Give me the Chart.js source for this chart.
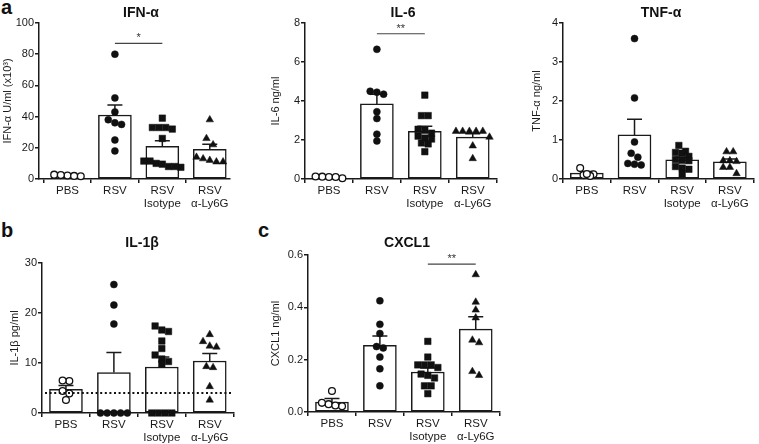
<!DOCTYPE html>
<html>
<head>
<meta charset="utf-8">
<script src="https://cdn.jsdelivr.net/npm/chart.js@4.4.1/dist/chart.umd.min.js"></script>
<style>
body { margin: 0; background: #fff; }
#page { position: relative; width: 759px; height: 444px; overflow: hidden; font-family: "Liberation Sans", Arial, sans-serif; }
canvas { position: absolute; }
.tag { position: absolute; font-weight: bold; font-size: 20px; line-height: 20px; color: #111; }
</style>
</head>
<body>
<div id="page">
  <div class="tag" style="left:1px;top:-3px">a</div>
  <div class="tag" style="left:1px;top:220px">b</div>
  <div class="tag" style="left:258px;top:220px">c</div>
</div>
<script>
const groups = [['PBS'], ['RSV'], ['RSV', 'Isotype'], ['RSV', 'α-Ly6G']];

// IFN-α U/ml (x10^3)
const ifnPBS = [2.2, 2.8, 1.8, 2.0, 2.5];
const ifnRSV = [80, 52, 43, 38, 36, 35, 25, 18];
const ifnIso = [39, 33, 33, 32, 33, 26, 11.5, 10, 8, 7.5, 8, 9.5, 11.5];
const ifnLy6G = [38, 26, 22, 14, 12, 11, 11, 13];
const ifnMean = [2.2, 41, 21, 19];
const ifnSem = [0.3, 6.5, 3.5, 3.2];
const ifnTicks = [0, 20, 40, 60, 80, 100];

// IL-6 ng/ml
const il6PBS = [0.12, 0.1, 0.04, 0.1, 0.13];
const il6RSV = [6.65, 4.5, 4.35, 4.45, 3.45, 3.1, 2.3, 1.95];
const il6Iso = [4.3, 3.25, 3.25, 2.55, 2.5, 2.35, 2.1, 2.05, 2.2, 1.8, 1.85, 1.4];
const il6Ly6G = [2.45, 2.45, 2.45, 2.15, 2.45, 2.45, 1.7, 1.05];
const il6Mean = [0.1, 3.85, 2.45, 2.15];
const il6Sem = [0.02, 0.5, 0.25, 0.17];
const il6Ticks = [0, 2, 4, 6, 8];

// TNF-α ng/ml
const tnfPBS = [0.12, 0.1, 0.28, 0.08, 0.13];
const tnfRSV = [3.6, 2.08, 0.95, 0.66, 0.56, 0.4, 0.36, 0.38];
const tnfIso = [0.86, 0.71, 0.68, 0.66, 0.58, 0.5, 0.48, 0.47, 0.32, 0.28, 0.25, 0.13];
const tnfLy6G = [0.7, 0.7, 0.47, 0.45, 0.47, 0.3, 0.3, 0.14];
const tnfMean = [0.15, 1.13, 0.49, 0.44];
const tnfSem = [0.04, 0.4, 0.065, 0.07];
const tnfTicks = [0, 1, 2, 3, 4];

// IL-1β pg/ml
const il1PBS = [6.4, 6.5, 4.4, 3.9, 2.6];
const il1RSV = [25.7, 21.6, 17.8, 0, 0, 0, 0, 0];
const il1Iso = [17.4, 16.6, 16.3, 14.4, 12.9, 11.6, 10.8, 10.3, 9.8, 0, 0, 0, 0];
const il1Ly6G = [15.7, 14.3, 13.4, 13.2, 9.3, 9.1, 5.3, 2.6];
const il1Mean = [4.75, 8.1, 9.2, 10.4];
const il1Sem = [0.75, 4.0, 2.0, 1.5];
const il1Ticks = [0, 10, 20, 30];
const il1Limit = 4;

// CXCL1 ng/ml
const cxPBS = [0.08, 0.03, 0.022, 0.025, 0.035];
const cxRSV = [0.425, 0.335, 0.3, 0.25, 0.245, 0.21, 0.165, 0.1];
const cxIso = [0.27, 0.21, 0.18, 0.18, 0.18, 0.17, 0.145, 0.14, 0.13, 0.1, 0.1, 0.07];
const cxLy6G = [0.525, 0.42, 0.39, 0.36, 0.275, 0.265, 0.155, 0.14];
const cxMean = [0.038, 0.255, 0.153, 0.317];
const cxSem = [0.014, 0.035, 0.015, 0.047];
const cxTicks = [0, 0.2, 0.4, 0.6];

// significance bars: [from group, to group, height, label]
const ifnSig = [1, 2, 87, '*'];
const il6Sig = [1, 2, 7.45, '**'];
const cxSig = [2, 3, 0.565, '**'];

const FONT = '"Liberation Sans", Arial, Helvetica, sans-serif';
const INK = '#1a1a1a';
const styles = [
  { pointStyle: 'circle', pointRadius: 3.4, backgroundColor: '#fff', borderWidth: 1.3 },
  { pointStyle: 'circle', pointRadius: 3.5, backgroundColor: '#111', borderWidth: 0.5 },
  { pointStyle: 'rect', pointRadius: 4.6, backgroundColor: '#111', borderWidth: 0.5 },
  { pointStyle: 'triangle', pointRadius: 4.3, backgroundColor: '#111', borderWidth: 0.5 }
];

// spread points with close values side by side, like a column scatter
function spread(values, tol) {
  const order = values.map((v, i) => i).sort((a, b) => values[b] - values[a]);
  const off = values.map(() => 0);
  let k = 0;
  while (k < order.length) {
    let j = k;
    while (j + 1 < order.length && values[order[k]] - values[order[j + 1]] < tol) j++;
    const n = j - k + 1;
    const step = n > 1 ? Math.min(0.14, 0.78 / (n - 1)) : 0;
    for (let m = 0; m < n; m++) off[order[k + m]] = (m - (n - 1) / 2) * step;
    k = j + 1;
  }
  return off;
}

function makePanel(p) {
  const b = p.box;
  const cLeft = Math.round(b.yTitleX - 6.6);
  const cTop = b.headY - 12;
  const w = Math.min(759, b.right + 2) - cLeft;
  const h = b.bottom + 36 - cTop;
  const cv = document.createElement('canvas');
  cv.width = w; cv.height = h;
  cv.style.left = cLeft + 'px'; cv.style.top = cTop + 'px';
  cv.style.width = w + 'px'; cv.style.height = h + 'px';
  document.getElementById('page').appendChild(cv);

  const tol = p.yMax * 6.5 / (b.bottom - b.top);
  const datasets = [{
    type: 'bar',
    data: p.means.map((m, i) => ({ x: i, y: m })),
    backgroundColor: '#fff',
    borderColor: INK,
    borderWidth: 1.5,
    borderSkipped: false,
    barThickness: 33,
    order: 2
  }];
  p.points.forEach((vals, i) => {
    const off = spread(vals, tol);
    datasets.push(Object.assign({
      type: 'scatter',
      data: vals.map((v, k) => ({ x: i + off[k], y: v })),
      borderColor: '#111',
      clip: false,
      order: 0
    }, styles[i]));
  });

  const extras = {
    id: 'extras',
    afterDatasetDraw(chart, args) {
      if (args.meta.type !== 'bar') return;
      const ctx = chart.ctx, ys = chart.scales.y;
      ctx.save();
      ctx.strokeStyle = INK;
      ctx.lineWidth = 1.5;
      args.meta.data.forEach((bar, i) => {
        const top = ys.getPixelForValue(p.means[i] + p.sems[i]);
        ctx.beginPath();
        ctx.moveTo(bar.x, bar.y);
        ctx.lineTo(bar.x, top);
        ctx.moveTo(bar.x - 7.5, top);
        ctx.lineTo(bar.x + 7.5, top);
        ctx.stroke();
      });
      ctx.restore();
    },
    afterDraw(chart) {
      const ctx = chart.ctx, xs = chart.scales.x, ys = chart.scales.y, area = chart.chartArea;
      ctx.save();
      ctx.fillStyle = '#111';
      ctx.font = 'bold 14px ' + FONT;
      ctx.textAlign = 'center';
      ctx.textBaseline = 'middle';
      ctx.fillText(p.title, b.headX - cLeft, b.headY - cTop);
      if (p.sig) {
        const y = ys.getPixelForValue(p.sig[2]);
        ctx.strokeStyle = '#444';
        ctx.lineWidth = 1.2;
        ctx.beginPath();
        ctx.moveTo(xs.getPixelForValue(p.sig[0]), y);
        ctx.lineTo(xs.getPixelForValue(p.sig[1]), y);
        ctx.stroke();
        ctx.font = '11px ' + FONT;
        ctx.fillStyle = '#333';
        ctx.fillText(p.sig[3], (xs.getPixelForValue(p.sig[0]) + xs.getPixelForValue(p.sig[1])) / 2, y - 5);
      }
      if (p.limit !== undefined) {
        const y = ys.getPixelForValue(p.limit);
        ctx.strokeStyle = '#111';
        ctx.lineWidth = 2;
        ctx.setLineDash([2, 2.6]);
        ctx.beginPath();
        ctx.moveTo(area.left + 3, y);
        ctx.lineTo(area.right - 2, y);
        ctx.stroke();
      }
      ctx.restore();
    }
  };

  const axisGrid = { display: true, drawOnChartArea: false, drawTicks: true, tickLength: 4, color: INK, lineWidth: 1.5 };
  new Chart(cv, {
    type: 'bar',
    data: { datasets: datasets },
    options: {
      responsive: false,
      animation: false,
      events: [],
      layout: { padding: { left: 0, right: w - (b.right - cLeft), top: b.top - cTop, bottom: 0 } },
      plugins: { legend: { display: false }, tooltip: { enabled: false }, title: { display: false } },
      scales: {
        x: {
          type: 'linear',
          min: p.xMin,
          max: p.xMax,
          offset: false,
          afterBuildTicks: ax => { ax.ticks = groups.map((g, i) => ({ value: i })); },
          afterFit: s => { s.height = 36; },
          ticks: {
            autoSkip: false,
            maxRotation: 0,
            padding: 2,
            color: INK,
            font: { family: FONT, size: 11.5, lineHeight: 1.1 },
            callback: v => groups[v]
          },
          grid: axisGrid,
          border: { display: true, color: INK, width: 1.5 }
        },
        y: {
          type: 'linear',
          min: 0,
          max: p.yMax,
          afterBuildTicks: ax => { ax.ticks = p.yTicks.map(v => ({ value: v })); },
          afterFit: s => { s.width = b.left - cLeft; },
          ticks: {
            padding: 1,
            color: INK,
            font: { family: FONT, size: 11 },
            callback: v => p.fmt(v)
          },
          title: {
            display: true,
            text: p.yTitle,
            color: INK,
            font: { family: FONT, size: 11 },
            padding: { top: 0, bottom: 2 }
          },
          grid: axisGrid,
          border: { display: true, color: INK, width: 1.5 }
        }
      }
    },
    plugins: [extras]
  });
}

const asInt = v => String(v);
const oneDec = v => v.toFixed(1);

makePanel({
  box: { left: 39, right: 233, top: 23, bottom: 179, yTitleX: 8, headX: 141, headY: 13 },
  title: 'IFN-α', yTitle: 'IFN-α U/ml (x10³)', yMax: 100, yTicks: ifnTicks, fmt: asInt,
  xMin: -0.6, xMax: 3.42,
  points: [ifnPBS, ifnRSV, ifnIso, ifnLy6G], means: ifnMean, sems: ifnSem, sig: ifnSig
});
makePanel({
  box: { left: 305, right: 500, top: 23, bottom: 179, yTitleX: 276, headX: 403, headY: 13 },
  title: 'IL-6', yTitle: 'IL-6 ng/ml', yMax: 8, yTicks: il6Ticks, fmt: asInt,
  xMin: -0.5, xMax: 3.5,
  points: [il6PBS, il6RSV, il6Iso, il6Ly6G], means: il6Mean, sems: il6Sem, sig: il6Sig
});
makePanel({
  box: { left: 563, right: 758, top: 23, bottom: 179, yTitleX: 537, headX: 661, headY: 13 },
  title: 'TNF-α', yTitle: 'TNF-α ng/ml', yMax: 4, yTicks: tnfTicks, fmt: asInt,
  xMin: -0.5, xMax: 3.5,
  points: [tnfPBS, tnfRSV, tnfIso, tnfLy6G], means: tnfMean, sems: tnfSem
});
makePanel({
  box: { left: 42, right: 237, top: 263, bottom: 413, yTitleX: 15, headX: 142, headY: 243 },
  title: 'IL-1β', yTitle: 'IL-1β pg/ml', yMax: 30, yTicks: il1Ticks, fmt: asInt,
  xMin: -0.5, xMax: 3.5,
  points: [il1PBS, il1RSV, il1Iso, il1Ly6G], means: il1Mean, sems: il1Sem, limit: il1Limit
});
makePanel({
  box: { left: 308, right: 503, top: 255, bottom: 412, yTitleX: 276, headX: 407, headY: 243 },
  title: 'CXCL1', yTitle: 'CXCL1 ng/ml', yMax: 0.6, yTicks: cxTicks, fmt: oneDec,
  xMin: -0.5, xMax: 3.5,
  points: [cxPBS, cxRSV, cxIso, cxLy6G], means: cxMean, sems: cxSem, sig: cxSig
});
</script>
</body>
</html>
